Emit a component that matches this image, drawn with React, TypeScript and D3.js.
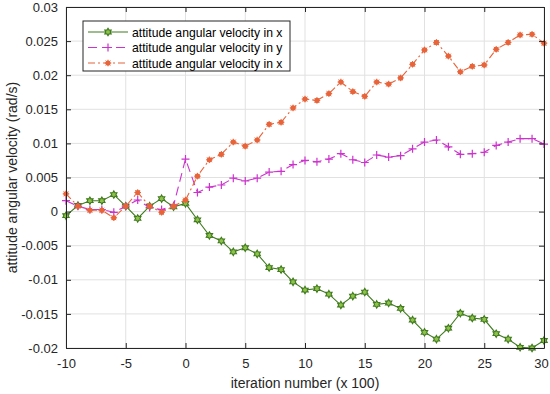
import * as React from 'react'
import {select, scaleLinear, axisBottom, axisLeft, axisTop, axisRight, line, range} from 'd3'

const {useRef, useEffect} = React

// iterations (x 100)
const iterations = range(-10, 31)

const velX1 = [
  -0.0006, 0.0009, 0.0016, 0.0016, 0.0025, 0.0008, -0.0010, 0.0008, 0.0019, 0.0007,
  0.0012, -0.0012, -0.0035, -0.0043, -0.0059, -0.0053, -0.0062, -0.0082, -0.0085, -0.0103,
  -0.0115, -0.0113, -0.0121, -0.0137, -0.0124, -0.0118, -0.0136, -0.0134, -0.0142, -0.0159,
  -0.0177, -0.0187, -0.0171, -0.0149, -0.0156, -0.0158, -0.0179, -0.0187, -0.0199, -0.0200,
  -0.0189,
]

const velY = [
  0.0016, 0.0008, 0.0003, 0.0003, -0.0001, 0.0008, 0.0017, 0.0006, 0.0003, 0.0009,
  0.0077, 0.0028, 0.0036, 0.0039, 0.0049, 0.0045, 0.0049, 0.0058, 0.0059, 0.0069,
  0.0075, 0.0073, 0.0077, 0.0085, 0.0076, 0.0072, 0.0083, 0.0080, 0.0082, 0.0092,
  0.0102, 0.0105, 0.0095, 0.0084, 0.0085, 0.0087, 0.0097, 0.0102, 0.0107, 0.0107,
  0.0099,
]

const velX2 = [
  0.0026, 0.0008, 0.0002, 0.0002, -0.0009, 0.0008, 0.0028, 0.0008, -0.0001, 0.0008,
  0.0017, 0.0052, 0.0076, 0.0084, 0.0102, 0.0096, 0.0105, 0.0128, 0.0131, 0.0152,
  0.0165, 0.0163, 0.0173, 0.0190, 0.0176, 0.0169, 0.0190, 0.0187, 0.0196, 0.0216,
  0.0237, 0.0248, 0.0228, 0.0205, 0.0213, 0.0215, 0.0238, 0.0248, 0.0259, 0.0260,
  0.0247,
]

const legendLabels = [
  'attitude angular velocity in x',
  'attitude angular velocity in y',
  'attitude angular velocity in x',
]

const xTicks = [-10, -5, 0, 5, 10, 15, 20, 25, 30]
const yTicks = [-0.02, -0.015, -0.01, -0.005, 0, 0.005, 0.01, 0.015, 0.02, 0.025, 0.03]

const W = 550
const H = 394
const M = {left: 66, right: 6, top: 7, bottom: 46}
const FONT = 'Liberation Sans, Arial, sans-serif'

// six pointed star
const hexagram = (r) => {
  const pts = []
  for (let i = 0; i < 12; i++) {
    const a = Math.PI / 6 * i - Math.PI / 2
    const rr = i % 2 === 0 ? r : r * 0.58
    pts.push([rr * Math.cos(a), rr * Math.sin(a)])
  }
  return 'M' + pts.map(p => p[0].toFixed(2) + ',' + p[1].toFixed(2)).join('L') + 'Z'
}

const series = [
  {values: velX1, color: '#3f7a1e', dash: null, marker: 'hex', fill: '#8fc24a'},
  {values: velY, color: '#cc33cc', dash: '9,5', marker: 'plus', fill: 'none'},
  {values: velX2, color: '#e8643a', dash: '7,3,2,3', marker: 'star', fill: '#e8643a'},
]

const drawMarker = (g, kind, color, fill) => {
  if (kind === 'hex') {
    g.append('path').attr('d', hexagram(3.7)).attr('fill', fill).attr('stroke', color).attr('stroke-width', 1.1)
  } else if (kind === 'plus') {
    g.append('path').attr('d', 'M-4,0H4M0,-4V4').attr('stroke', color).attr('stroke-width', 1.2)
  } else {
    g.append('circle').attr('r', 2.6).attr('fill', fill)
    g.append('path').attr('d', 'M-3.3,0H3.3M0,-3.3V3.3M-2.4,-2.4L2.4,2.4M-2.4,2.4L2.4,-2.4')
      .attr('stroke', color).attr('stroke-width', 1)
  }
}

export default function App() {
  const ref = useRef(null)

  useEffect(() => {
    const root = select(ref.current)
    root.selectAll('*').remove()

    const svg = root.append('svg').attr('width', W).attr('height', H)
      .style('position', 'absolute').style('left', 0).style('top', 0)
      .style('background', '#fff')

    const x = scaleLinear().domain([-10, 30]).range([M.left, W - M.right])
    const y = scaleLinear().domain([-0.02, 0.03]).range([H - M.bottom, M.top])

    // grid
    const grid = svg.append('g')
    grid.selectAll('.gx').data(xTicks).join('line')
      .attr('x1', d => x(d)).attr('x2', d => x(d))
      .attr('y1', y.range()[1]).attr('y2', y.range()[0])
      .attr('stroke', '#e1e1e1').attr('stroke-width', 1)
    grid.selectAll('.gy').data(yTicks).join('line')
      .attr('x1', x.range()[0]).attr('x2', x.range()[1])
      .attr('y1', d => y(d)).attr('y2', d => y(d))
      .attr('stroke', '#e1e1e1').attr('stroke-width', 1)

    // series
    series.forEach(s => {
      const pts = iterations.map((it, i) => [x(it), y(s.values[i])])
      const path = svg.append('path').attr('d', line()(pts))
        .attr('fill', 'none').attr('stroke', s.color).attr('stroke-width', 1.1)
      if (s.dash) path.attr('stroke-dasharray', s.dash)
      pts.forEach(p => {
        const g = svg.append('g').attr('transform', `translate(${p[0]},${p[1]})`)
        drawMarker(g, s.marker, s.color, s.fill)
      })
    })

    // axes, ticks pointing inward
    const fmt = d => String(+d.toFixed(3))
    const styleAxis = (g) => {
      g.select('.domain').attr('stroke', '#262626')
      g.selectAll('.tick line').attr('stroke', '#262626')
      g.selectAll('.tick text').attr('fill', '#262626').style('font-family', FONT).style('font-size', '13px')
    }
    const xAxisG = svg.append('g').attr('transform', `translate(0,${y.range()[0]})`)
      .call(axisBottom(x).tickValues(xTicks).tickSizeInner(-5).tickSizeOuter(0).tickPadding(11).tickFormat(fmt))
      .call(styleAxis)
    // keep the last label inside the page
    xAxisG.selectAll('.tick text').filter(d => d === 30).attr('dx', '-3')
    svg.append('g').attr('transform', `translate(0,${y.range()[1]})`)
      .call(axisTop(x).tickValues(xTicks).tickSizeInner(-5).tickSizeOuter(0).tickFormat(() => ''))
      .call(styleAxis)
    svg.append('g').attr('transform', `translate(${x.range()[0]},0)`)
      .call(axisLeft(y).tickValues(yTicks).tickSizeInner(-5).tickSizeOuter(0).tickPadding(8).tickFormat(fmt))
      .call(styleAxis)
    svg.append('g').attr('transform', `translate(${x.range()[1]},0)`)
      .call(axisRight(y).tickValues(yTicks).tickSizeInner(-5).tickSizeOuter(0).tickFormat(() => ''))
      .call(styleAxis)

    // axis labels
    svg.append('text').attr('x', (x.range()[0] + x.range()[1]) / 2).attr('y', H - 6)
      .attr('text-anchor', 'middle').attr('fill', '#262626')
      .style('font-family', FONT).style('font-size', '14px')
      .text('iteration number (x 100)')
    svg.append('text')
      .attr('transform', `translate(17,${(y.range()[0] + y.range()[1]) / 2}) rotate(-90)`)
      .attr('text-anchor', 'middle').attr('fill', '#262626')
      .style('font-family', FONT).style('font-size', '14px')
      .text('attitude angular velocity (rad/s)')

    // legend
    const lg = svg.append('g').attr('transform', 'translate(83,21)')
    lg.append('rect').attr('width', 207).attr('height', 50)
      .attr('fill', '#fff').attr('stroke', '#262626').attr('stroke-width', 1)
    series.forEach((s, i) => {
      const ly = 11 + i * 15.5
      const l = lg.append('line').attr('x1', 5).attr('x2', 45).attr('y1', ly).attr('y2', ly)
        .attr('stroke', s.color).attr('stroke-width', 1.1)
      if (s.dash) l.attr('stroke-dasharray', s.dash)
      const g = lg.append('g').attr('transform', `translate(25,${ly})`)
      drawMarker(g, s.marker, s.color, s.fill)
      lg.append('text').attr('x', 49).attr('y', ly + 4.5).attr('fill', '#000')
        .style('font-family', FONT).style('font-size', '12.2px')
        .text(legendLabels[i])
    })
  }, [])

  return <div ref={ref} className="chart" />
}
